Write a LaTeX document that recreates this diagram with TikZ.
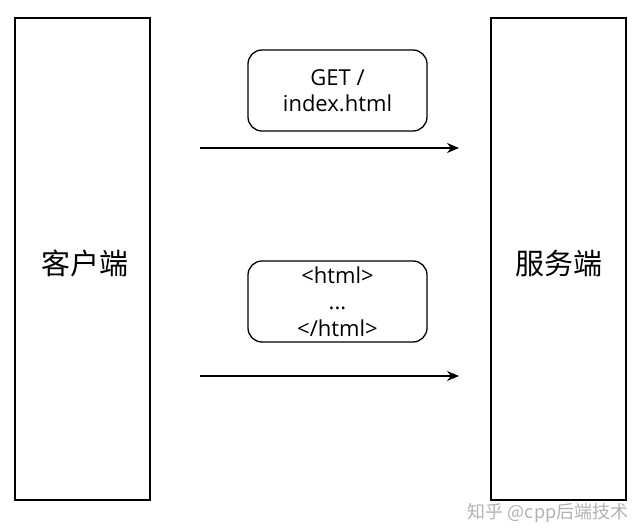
\documentclass[tikz,border=0pt]{standalone}
\usepackage{fontspec}
\setmainfont{Open Sans}
\newfontfamily\cjk{Noto Sans CJK SC}
\usetikzlibrary{arrows.meta}
\tikzset{
  endbox/.style={draw=black, line width=1.5pt, minimum width=135pt, minimum height=482pt, inner sep=0pt},
  endlabel/.style={font=\cjk\fontsize{29}{32}\selectfont, inner sep=0pt},
  msgbox/.style={draw=black, line width=1.3pt, rounded corners=14pt, minimum width=179pt, minimum height=81pt, inner sep=0pt, align=center, font=\fontsize{22}{26.5}\selectfont},
  msgarrow/.style={line width=1.3pt, -{Stealth[length=12pt,width=10pt]}},
}
\begin{document}
\begin{tikzpicture}[x=1pt,y=-1pt]
\useasboundingbox (0,0) rectangle (643,529);
\node[endbox] (client) at (82.5,259) {};
\node[endbox] (server) at (558.5,259) {};
\node[endlabel] (clientlabel) at (85,263) {客户端};
\node[endlabel] (serverlabel) at (558.5,263) {服务端};
\node[msgbox] (req) at (337.5,90.5) {GET /\\index.html};
\node[msgbox] (resp) at (337.5,301.5) {<html>\\...\\</html>};
\coordinate (a1s) at (200,148);
\coordinate (a1e) at (459,148);
\coordinate (a2s) at (200,376);
\coordinate (a2e) at (459,376);
\draw[msgarrow] (a1s) -- (a1e);
\draw[msgarrow] (a2s) -- (a2e);
\node[text=black!30, font=\cjk\fontsize{18}{20}\selectfont, anchor=east] (wm) at (632,513) {知乎 @cpp后端技术};
\end{tikzpicture}
\end{document}
